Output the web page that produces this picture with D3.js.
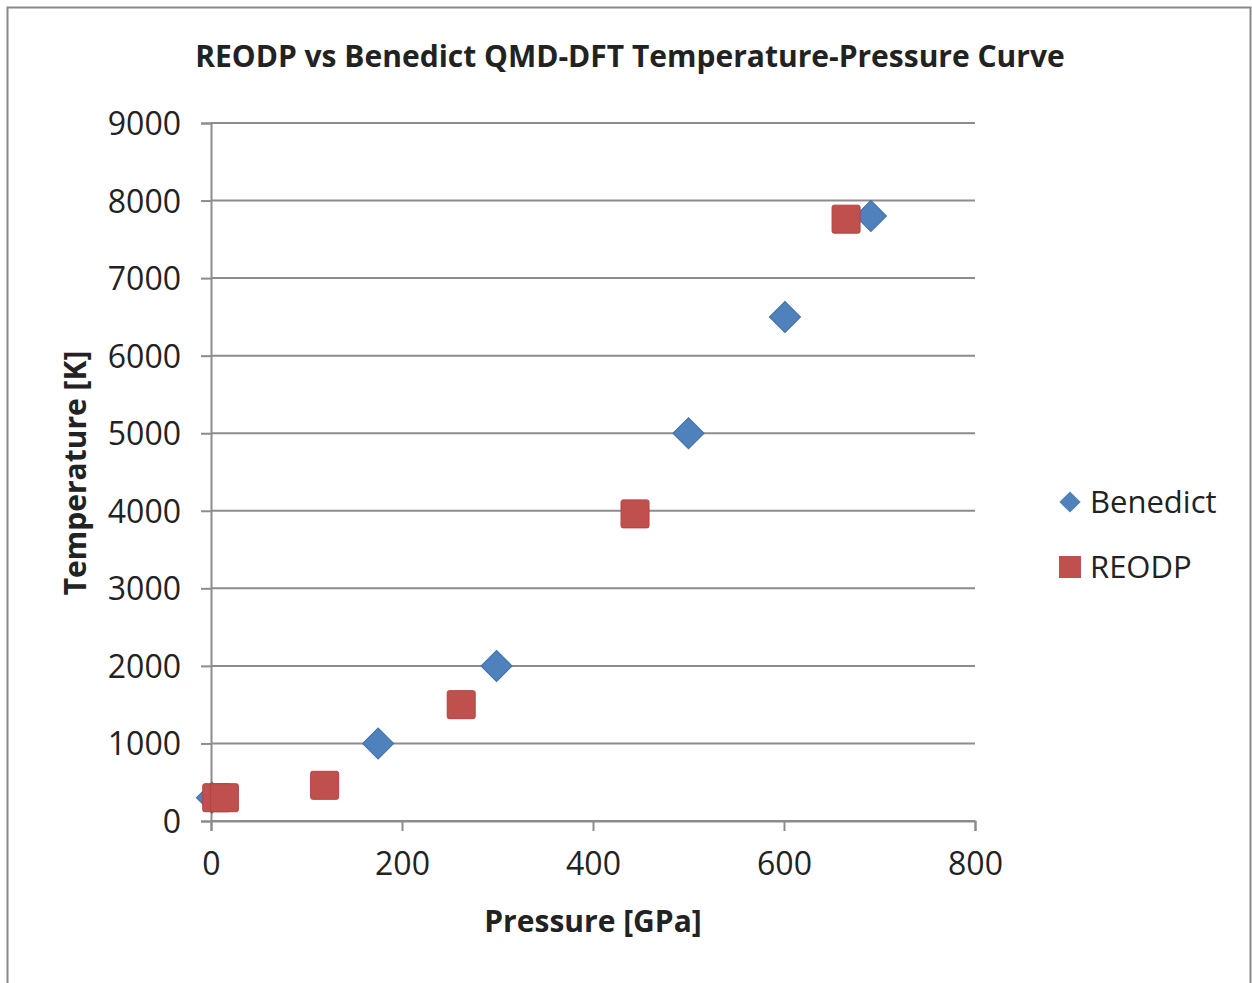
<!DOCTYPE html>
<html>
<head>
<meta charset="utf-8">
<script src="https://cdn.jsdelivr.net/npm/d3@7"></script>
<style>
  body { margin: 0; background: #fff; }
  text { font-family: "Open Sans", "DejaVu Sans", sans-serif; fill: #222; }
</style>
</head>
<body>
<script>
// data
var benedictP = [1, 175, 299, 500, 601, 691];
var benedictT = [300, 1000, 2000, 5000, 6500, 7800];
var reodpP = [6, 14, 119, 262, 444, 665];
var reodpT = [300, 300, 460, 1500, 3960, 7760];
var xTicks = [0, 200, 400, 600, 800];
var yTicks = [0, 1000, 2000, 3000, 4000, 5000, 6000, 7000, 8000, 9000];

var W = 1252, H = 983;
var blue = "#4f81bd", red = "#c0504d", grid = "#8c8c8c";

var svg = d3.select("body").append("svg")
  .attr("width", W)
  .attr("height", H);

// outer chart border
svg.append("rect")
  .attr("x", 7.5).attr("y", 7.5)
  .attr("width", 1243).attr("height", 990)
  .attr("fill", "#fff")
  .attr("stroke", "#888").attr("stroke-width", 2);

var x = d3.scaleLinear().domain([0, 800]).range([211, 975]);
var y = d3.scaleLinear().domain([0, 9000]).range([821, 123]);

// horizontal gridlines
svg.append("g").selectAll("line")
  .data(yTicks).enter().append("line")
  .attr("x1", x(0)).attr("x2", x(800))
  .attr("y1", function(d) { return y(d); })
  .attr("y2", function(d) { return y(d); })
  .attr("stroke", grid).attr("stroke-width", 2);

// y axis
var yAxis = svg.append("g")
  .attr("transform", "translate(" + x(0) + ",0)")
  .call(d3.axisLeft(y).tickValues(yTicks).tickFormat(d3.format("d"))
    .tickSize(10).tickPadding(20));
// x axis
var xAxis = svg.append("g")
  .attr("transform", "translate(0," + y(0) + ")")
  .call(d3.axisBottom(x).tickValues(xTicks).tickFormat(d3.format("d"))
    .tickSize(10).tickPadding(20));

[xAxis, yAxis].forEach(function(a) {
  a.select(".domain").attr("stroke", grid).attr("stroke-width", 2);
  a.selectAll(".tick line").attr("stroke", grid).attr("stroke-width", 2);
  a.selectAll(".tick text")
    .style("font-family", "'Open Sans', sans-serif")
    .style("font-size", "32px")
    .attr("fill", "#222");
});
yAxis.selectAll(".tick text").attr("dy", "0.36em");
xAxis.selectAll(".tick text").attr("dy", "0.75em");

// points
var benedict = benedictP.map(function(p, i) { return { p: p, t: benedictT[i] }; });
var reodp = reodpP.map(function(p, i) { return { p: p, t: reodpT[i] }; });

svg.append("g").selectAll("path")
  .data(benedict).enter().append("path")
  .attr("d", d3.symbol().type(d3.symbolSquare).size(22 * 22))
  .attr("transform", function(d) {
    return "translate(" + x(d.p) + "," + y(d.t) + ") rotate(45)";
  })
  .attr("fill", blue).attr("stroke", "#3f6fa8").attr("stroke-width", 1);

svg.append("g").selectAll("rect")
  .data(reodp).enter().append("rect")
  .attr("x", function(d) { return x(d.p) - 14; })
  .attr("y", function(d) { return y(d.t) - 14; })
  .attr("width", 28).attr("height", 28)
  .attr("rx", 2)
  .attr("fill", red).attr("stroke", "#b4423f").attr("stroke-width", 1);

// title
svg.append("text")
  .attr("x", 630).attr("y", 67)
  .attr("text-anchor", "middle")
  .style("font-size", "30px").style("font-weight", "bold")
  .text("REODP vs Benedict QMD-DFT Temperature-Pressure Curve");

// axis titles
svg.append("text")
  .attr("x", 593).attr("y", 932)
  .attr("text-anchor", "middle")
  .style("font-size", "30px").style("font-weight", "bold")
  .text("Pressure [GPa]");

svg.append("text")
  .attr("transform", "translate(86,473) rotate(-90)")
  .attr("text-anchor", "middle")
  .style("font-size", "30px").style("font-weight", "bold")
  .text("Temperature [K]");

// legend
var legend = svg.append("g");
legend.append("path")
  .attr("d", d3.symbol().type(d3.symbolSquare).size(15 * 15))
  .attr("transform", "translate(1070,502) rotate(45)")
  .attr("fill", blue);
legend.append("text")
  .attr("x", 1090).attr("y", 513)
  .style("font-size", "31px")
  .text("Benedict");
legend.append("rect")
  .attr("x", 1059).attr("y", 556)
  .attr("width", 22).attr("height", 22)
  .attr("fill", red);
legend.append("text")
  .attr("x", 1090).attr("y", 578)
  .style("font-size", "31px")
  .text("REODP");
</script>
</body>
</html>
